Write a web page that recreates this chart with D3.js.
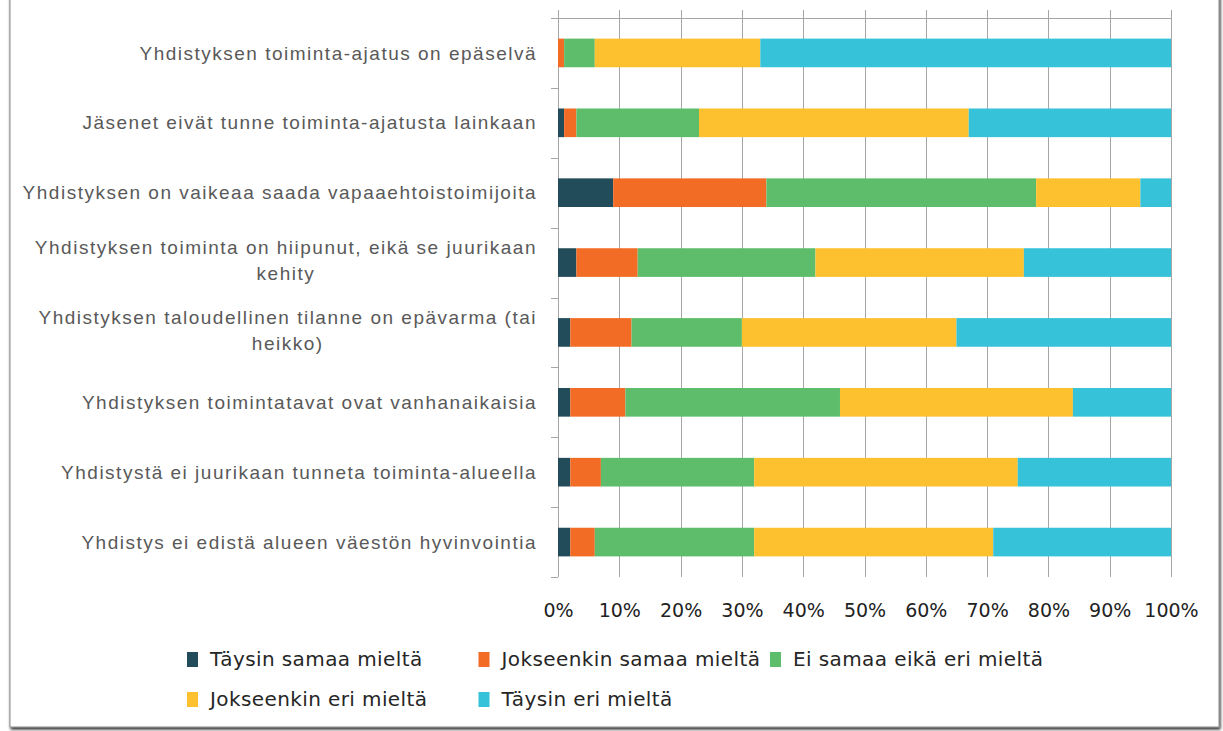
<!DOCTYPE html>
<html>
<head>
  <meta charset="utf-8">
  <title>Yhdistyksen haasteet</title>
  <script src="https://d3js.org/d3.v7.min.js"></script>
  <style>
    body { margin: 0; background: #fff; }
  </style>
</head>
<body>
  <svg id="chart" width="1223" height="731"></svg>

  <script>
    // Categories, top to bottom ("\n" marks the line break in the label)
    var categories = [
      "Yhdistyksen toiminta-ajatus on epäselvä",
      "Jäsenet eivät tunne toiminta-ajatusta lainkaan",
      "Yhdistyksen on vaikeaa saada vapaaehtoistoimijoita",
      "Yhdistyksen toiminta on hiipunut, eikä se juurikaan\nkehity",
      "Yhdistyksen taloudellinen tilanne on epävarma (tai\nheikko)",
      "Yhdistyksen toimintatavat ovat vanhanaikaisia",
      "Yhdistystä ei juurikaan tunneta toiminta-alueella",
      "Yhdistys ei edistä alueen väestön hyvinvointia"
    ];

    var seriesNames = [
      "Täysin samaa mieltä",
      "Jokseenkin samaa mieltä",
      "Ei samaa eikä eri mieltä",
      "Jokseenkin eri mieltä",
      "Täysin eri mieltä"
    ];

    // Percent values per series, in category order
    var taysinSamaa      = [0, 1, 9, 3, 2, 2, 2, 2];
    var jokseenkinSamaa  = [1, 2, 25, 10, 10, 9, 5, 4];
    var eiSamaaEikaEri   = [5, 20, 44, 29, 18, 35, 25, 26];
    var jokseenkinEri    = [27, 44, 17, 34, 35, 38, 43, 39];
    var taysinEri        = [67, 33, 5, 24, 35, 16, 25, 29];

    var xTicks = [0, 10, 20, 30, 40, 50, 60, 70, 80, 90, 100];

    var colors = ["#234c5a", "#f26c25", "#5dbd6b", "#fdc02f", "#36c2d8"];

    var seriesValues = [taysinSamaa, jokseenkinSamaa, eiSamaaEikaEri, jokseenkinEri, taysinEri];

    // build rows for the stack
    var rows = categories.map(function(c, i) {
      var r = { category: c };
      seriesNames.forEach(function(s, j) { r[s] = seriesValues[j][i]; });
      return r;
    });

    var margin = { top: 18, left: 558 };
    var width = 613;
    var height = 559;

    var svg = d3.select("#chart");

    // frame with a shadow
    var defs = svg.append("defs");
    var f = defs.append("filter").attr("id", "shadow")
      .attr("x", "-5%").attr("y", "-5%").attr("width", "110%").attr("height", "110%");
    f.append("feDropShadow")
      .attr("dx", 1).attr("dy", 2).attr("stdDeviation", 1.6)
      .attr("flood-color", "#000").attr("flood-opacity", 0.85);

    svg.append("rect")
      .attr("x", 10).attr("y", -20)
      .attr("width", 1209).attr("height", 747)
      .attr("fill", "#fff")
      .attr("stroke", "#8a8a8a")
      .attr("filter", "url(#shadow)");

    var g = svg.append("g")
      .attr("transform", "translate(" + margin.left + "," + margin.top + ")");

    var x = d3.scaleLinear().domain([0, 100]).range([0, width]);
    var y = d3.scaleBand().domain(categories).range([0, height]).paddingInner(0.59).paddingOuter(0.295);

    // grid lines + top tick marks
    g.selectAll("line.grid")
      .data(xTicks)
      .enter().append("line")
      .attr("class", "grid")
      .attr("x1", function(d) { return Math.round(x(d)) + 0.5; })
      .attr("x2", function(d) { return Math.round(x(d)) + 0.5; })
      .attr("y1", -8)
      .attr("y2", height)
      .attr("stroke", "#a6a6a6");

    // top line
    g.append("line")
      .attr("x1", -7).attr("x2", Math.round(x(100)) + 0.5)
      .attr("y1", 0.5).attr("y2", 0.5)
      .attr("stroke", "#a6a6a6");

    // category boundary ticks on the left
    var step = y.step();
    var bounds = d3.range(categories.length + 1).map(function(i) { return i * step; });
    g.selectAll("line.ctick")
      .data(bounds)
      .enter().append("line")
      .attr("class", "ctick")
      .attr("x1", -7).attr("x2", 0)
      .attr("y1", function(d) { return Math.round(d) + 0.5; })
      .attr("y2", function(d) { return Math.round(d) + 0.5; })
      .attr("stroke", "#a6a6a6");

    // stacked bars
    var stack = d3.stack().keys(seriesNames)(rows);

    g.selectAll("g.series")
      .data(stack)
      .enter().append("g")
      .attr("class", "series")
      .attr("fill", function(d, i) { return colors[i]; })
      .selectAll("rect")
      .data(function(d) { return d; })
      .enter().append("rect")
      .attr("x", function(d) { return x(d[0]); })
      .attr("width", function(d) { return x(d[1]) - x(d[0]); })
      .attr("y", function(d) { return y(d.data.category); })
      .attr("height", y.bandwidth());

    // x axis labels
    var xAxis = d3.axisBottom(x)
      .tickValues(xTicks)
      .tickSize(0)
      .tickPadding(0)
      .tickFormat(function(d) { return d + "%"; });

    var xa = g.append("g")
      .attr("transform", "translate(0," + (height + 40) + ")")
      .call(xAxis);
    xa.select(".domain").remove();
    xa.selectAll("text")
      .attr("dy", null)
      .attr("y", 0)
      .attr("font-family", "DejaVu Sans, sans-serif")
      .attr("font-size", "19px")
      .attr("fill", "#222");

    // category labels (multi-line labels centered on the first line)
    var labelRight = -21;
    var lineGap = 26;
    categories.forEach(function(c) {
      var lines = c.split("\n");
      var cy = y(c) + y.bandwidth() / 2;
      var first = null;
      lines.forEach(function(line, k) {
        var offset = lines.length > 1 ? (k - (lines.length - 1) / 2) * lineGap - 2 : 0;
        var t = g.append("text")
          .attr("y", cy + offset)
          .attr("dy", "0.35em")
          .attr("font-family", "Liberation Sans, Arial, sans-serif")
          .attr("font-size", "19px")
          .attr("letter-spacing", "1.5px")
          .attr("fill", "#595959")
          .text(line);
        if (k === 0) {
          t.attr("x", labelRight).attr("text-anchor", "end");
          first = t.node().getComputedTextLength();
        } else {
          t.attr("x", labelRight - first / 2).attr("text-anchor", "middle");
        }
      });
    });

    // legend
    var legend = svg.append("g");
    var item = legend.selectAll("g.item")
      .data(seriesNames)
      .enter().append("g")
      .attr("class", "item")
      .attr("transform", function(d, i) {
        return "translate(" + (187 + (i % 3) * 291.5) + "," + (659 + Math.floor(i / 3) * 40) + ")";
      });
    item.append("rect")
      .attr("x", 0).attr("y", -7)
      .attr("width", 11).attr("height", 15)
      .attr("fill", function(d, i) { return colors[i]; });
    item.append("text")
      .attr("x", 23)
      .attr("dy", "0.35em")
      .attr("font-family", "DejaVu Sans, sans-serif")
      .attr("font-size", "20px")
      .attr("letter-spacing", "0.4px")
      .attr("fill", "#262626")
      .text(function(d) { return d; });
  </script>
</body>
</html>
